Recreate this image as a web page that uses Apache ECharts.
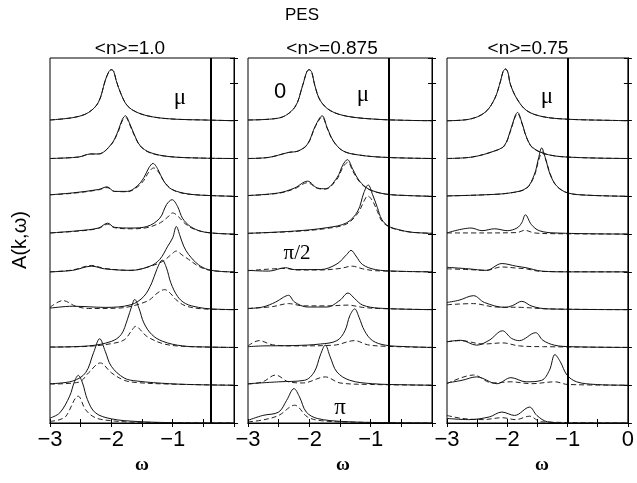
<!DOCTYPE html>
<html lang="en">
<head>
<meta charset="UTF-8">
<title>PES A(k,w)</title>
<script src="https://cdn.jsdelivr.net/npm/echarts@6/dist/echarts.min.js"></script>
<style>
  html, body { margin: 0; padding: 0; background: #fff; }
  #chart { width: 637px; height: 483px; }
</style>
</head>
<body>
<div id="chart"></div>
<script>
// panel captions and chemical potential per panel
const panelTitles = ["<n>=1.0", "<n>=0.875", "<n>=0.75"];
const muValues = [-0.38, -0.7, -1.0];
const xTicks = [-3, -2, -1, 0];

// curves listed top (k=0) to bottom (k=pi), each as [omega, A]
const n100Solid = [
  [[-3,0.02],[-2.6,0.09],[-2.37,0.22],[-2.21,0.49],[-2.1,1.06],[-2.04,1.3],[-2.0,1.35],[-1.96,1.3],[-1.92,1.06],[-1.84,0.7],[-1.74,0.4],[-1.58,0.22],[-1.32,0.1],[-0.95,0.04],[-0.5,0.02],[0,0]],
  [[-3,0],[-2.53,0.04],[-2.34,0.12],[-2.21,0.12],[-2.0,0.38],[-1.89,0.73],[-1.82,1.04],[-1.77,1.13],[-1.71,0.96],[-1.63,0.65],[-1.53,0.34],[-1.37,0.16],[-1.05,0.05],[-0.5,0.01],[0,0]],
  [[-3,0.04],[-2.63,0.09],[-2.21,0.18],[-2.07,0.25],[-1.95,0.13],[-1.74,0.13],[-1.58,0.27],[-1.47,0.49],[-1.39,0.75],[-1.32,0.87],[-1.24,0.71],[-1.16,0.44],[-1.05,0.22],[-0.89,0.11],[-0.63,0.04],[0,0]],
  [[-3,0.03],[-2.53,0.09],[-2.21,0.16],[-2.06,0.29],[-1.95,0.18],[-1.68,0.16],[-1.42,0.2],[-1.21,0.42],[-1.1,0.78],[-1.01,0.91],[-0.92,0.73],[-0.84,0.42],[-0.71,0.2],[-0.53,0.07],[-0.3,0.02],[0,0]],
  [[-3,0],[-2.63,0.04],[-2.32,0.15],[-2.11,0.08],[-1.68,0.04],[-1.37,0.15],[-1.21,0.33],[-1.08,0.68],[-1.0,0.9],[-0.94,1.2],[-0.88,0.95],[-0.82,0.68],[-0.74,0.46],[-0.58,0.19],[-0.42,0.06],[-0.2,0.01],[0,0]],
  [[-3,0.04],[-2.63,0.09],[-2.1,0.06],[-1.68,0.13],[-1.47,0.35],[-1.34,0.71],[-1.26,1.06],[-1.17,1.31],[-1.1,1.1],[-1.03,0.71],[-0.92,0.35],[-0.79,0.16],[-0.58,0.06],[-0.38,0.02],[0,0]],
  [[-3,0.01],[-2.37,0.04],[-2.0,0.16],[-1.84,0.34],[-1.74,0.73],[-1.66,1.13],[-1.62,1.27],[-1.55,1.04],[-1.47,0.65],[-1.34,0.34],[-1.16,0.16],[-0.84,0.04],[-0.4,0.01],[0,0]],
  [[-3,0.04],[-2.63,0.11],[-2.42,0.33],[-2.29,0.86],[-2.19,1.23],[-2.1,0.9],[-2.0,0.5],[-1.79,0.19],[-1.58,0.11],[-1.05,0.04],[-0.5,0.01],[0,0]],
  [[-3,0.13],[-2.84,0.27],[-2.68,0.71],[-2.6,1.1],[-2.54,1.26],[-2.47,1.06],[-2.39,0.62],[-2.26,0.27],[-2.0,0.11],[-1.58,0.04],[-1.0,0.01],[0,0]]
];
const n100Dashed = [
  [[-3,0.02],[-2.6,0.09],[-2.37,0.22],[-2.21,0.49],[-2.1,1.06],[-2.04,1.3],[-2.0,1.35],[-1.96,1.3],[-1.92,1.06],[-1.84,0.7],[-1.74,0.4],[-1.58,0.22],[-1.32,0.1],[-0.95,0.04],[-0.5,0.02],[0,0]],
  [[-3,0],[-2.53,0.04],[-2.34,0.12],[-2.21,0.12],[-2.0,0.37],[-1.89,0.7],[-1.82,1.0],[-1.76,1.08],[-1.71,0.93],[-1.63,0.63],[-1.53,0.33],[-1.37,0.15],[-1.05,0.05],[-0.5,0.01],[0,0]],
  [[-3,0.04],[-2.63,0.08],[-2.21,0.17],[-2.07,0.23],[-1.95,0.13],[-1.74,0.12],[-1.58,0.24],[-1.47,0.42],[-1.39,0.64],[-1.31,0.75],[-1.23,0.64],[-1.15,0.42],[-1.04,0.22],[-0.89,0.1],[-0.63,0.04],[0,0]],
  [[-3,0.03],[-2.53,0.08],[-2.21,0.15],[-2.06,0.26],[-1.95,0.17],[-1.68,0.14],[-1.42,0.17],[-1.2,0.3],[-1.08,0.45],[-1.0,0.56],[-0.9,0.45],[-0.8,0.28],[-0.69,0.16],[-0.53,0.07],[-0.3,0.02],[0,0]],
  [[-3,0],[-2.63,0.05],[-2.32,0.17],[-2.11,0.09],[-1.68,0.04],[-1.42,0.12],[-1.16,0.28],[-1.03,0.45],[-0.94,0.55],[-0.85,0.45],[-0.74,0.33],[-0.58,0.15],[-0.42,0.05],[-0.2,0.01],[0,0]],
  [[-3,0.06],[-2.79,0.24],[-2.58,0.09],[-2.37,0.03],[-1.89,0.04],[-1.42,0.22],[-1.24,0.45],[-1.13,0.53],[-1.03,0.42],[-0.95,0.27],[-0.79,0.1],[-0.5,0.02],[0,0]],
  [[-3,0.01],[-2.37,0.03],[-2.0,0.1],[-1.79,0.2],[-1.68,0.42],[-1.6,0.56],[-1.5,0.42],[-1.42,0.29],[-1.16,0.1],[-0.84,0.03],[0,0]],
  [[-3,0.03],[-2.53,0.08],[-2.37,0.33],[-2.18,0.59],[-2.0,0.33],[-1.79,0.13],[-1.58,0.07],[-1.05,0.03],[0,0]],
  [[-3,0.04],[-2.84,0.09],[-2.74,0.18],[-2.54,0.71],[-2.42,0.35],[-2.26,0.14],[-2.0,0.06],[-1.58,0.02],[0,0]]
];

const n0875Solid = [
  [[-3,0.02],[-2.5,0.07],[-2.24,0.35],[-2.11,0.93],[-2.04,1.3],[-2.0,1.35],[-1.96,1.28],[-1.91,0.93],[-1.82,0.53],[-1.66,0.27],[-1.39,0.12],[-0.92,0.04],[-0.4,0.01],[0,0]],
  [[-3,0],[-2.66,0.03],[-2.34,0.16],[-2.18,0.2],[-2.03,0.38],[-1.9,0.87],[-1.79,1.13],[-1.71,0.82],[-1.61,0.47],[-1.45,0.2],[-1.18,0.09],[-0.76,0.03],[0,0]],
  [[-3,0.02],[-2.5,0.09],[-2.24,0.22],[-2.03,0.4],[-1.87,0.22],[-1.74,0.2],[-1.55,0.49],[-1.45,0.84],[-1.38,0.97],[-1.29,0.71],[-1.18,0.4],[-1.03,0.19],[-0.76,0.06],[-0.4,0.02],[0,0]],
  [[-3,0.02],[-2.24,0.08],[-1.71,0.17],[-1.39,0.3],[-1.21,0.61],[-1.11,1.1],[-1.04,1.3],[-0.97,1.05],[-0.89,0.7],[-0.82,0.39],[-0.71,0.21],[-0.55,0.12],[-0.34,0.05],[0,0.02]],
  [[-3,0.04],[-2.66,0.02],[-2.39,0.11],[-2.24,0.06],[-1.82,0.06],[-1.55,0.21],[-1.39,0.46],[-1.32,0.57],[-1.24,0.42],[-1.13,0.19],[-0.92,0.06],[-0.6,0.02],[0,0]],
  [[-3,0.03],[-2.76,0.07],[-2.55,0.2],[-2.42,0.33],[-2.34,0.38],[-2.24,0.2],[-2.03,0.07],[-1.71,0.07],[-1.5,0.25],[-1.37,0.44],[-1.26,0.29],[-1.13,0.12],[-0.87,0.04],[0,0]],
  [[-3,0.02],[-2.76,0.04],[-2.24,0.05],[-1.82,0.09],[-1.55,0.18],[-1.42,0.44],[-1.34,0.84],[-1.26,1.02],[-1.19,0.8],[-1.1,0.44],[-0.97,0.18],[-0.76,0.06],[-0.4,0.02],[0,0]],
  [[-3,0.04],[-2.5,0.09],[-2.08,0.13],[-1.92,0.35],[-1.82,0.8],[-1.74,1.06],[-1.66,0.75],[-1.55,0.35],[-1.34,0.13],[-0.97,0.04],[-0.4,0.01],[0,0]],
  [[-3,0.07],[-2.76,0.2],[-2.5,0.29],[-2.37,0.6],[-2.25,0.91],[-2.16,0.69],[-2.05,0.29],[-1.87,0.12],[-1.45,0.04],[-0.8,0.01],[0,0]]
];
const n0875Dashed = [
  [[-3,0.02],[-2.5,0.07],[-2.24,0.35],[-2.11,0.93],[-2.04,1.3],[-2.0,1.35],[-1.96,1.28],[-1.91,0.93],[-1.82,0.53],[-1.66,0.27],[-1.39,0.12],[-0.92,0.04],[-0.4,0.01],[0,0]],
  [[-3,0],[-2.66,0.03],[-2.34,0.16],[-2.18,0.2],[-2.03,0.37],[-1.9,0.85],[-1.79,1.1],[-1.71,0.8],[-1.61,0.46],[-1.45,0.2],[-1.18,0.09],[-0.76,0.03],[0,0]],
  [[-3,0.02],[-2.5,0.08],[-2.24,0.2],[-2.03,0.36],[-1.87,0.21],[-1.74,0.19],[-1.55,0.45],[-1.45,0.78],[-1.37,0.9],[-1.29,0.66],[-1.18,0.38],[-1.03,0.18],[-0.76,0.06],[-0.4,0.02],[0,0]],
  [[-3,0.02],[-2.24,0.07],[-1.71,0.15],[-1.39,0.27],[-1.21,0.55],[-1.1,0.9],[-1.05,1.01],[-0.97,0.88],[-0.89,0.6],[-0.82,0.35],[-0.71,0.2],[-0.55,0.11],[-0.34,0.05],[0,0.02]],
  [[-3,0.03],[-2.39,0.09],[-2.2,0.05],[-1.82,0.05],[-1.5,0.09],[-1.3,0.15],[-1.13,0.08],[-0.92,0.03],[0,0]],
  [[-3,0.03],[-2.6,0.08],[-2.34,0.16],[-2.1,0.1],[-1.71,0.1],[-1.37,0.12],[-1.13,0.06],[-0.87,0.03],[0,0]],
  [[-3,0.04],[-2.82,0.18],[-2.6,0.07],[-2.24,0.04],[-1.6,0.06],[-1.26,0.18],[-1.05,0.07],[-0.76,0.03],[0,0]],
  [[-3,0.03],[-2.76,0.09],[-2.55,0.27],[-2.34,0.09],[-2.1,0.06],[-1.74,0.22],[-1.5,0.06],[-1.0,0.02],[0,0]],
  [[-3,0.03],[-2.76,0.08],[-2.5,0.2],[-2.24,0.47],[-2.03,0.16],[-1.8,0.06],[-1.2,0.02],[0,0]]
];

const n075Solid = [
  [[-3,0],[-2.63,0.04],[-2.37,0.22],[-2.21,0.58],[-2.11,1.06],[-2.07,1.3],[-2.03,1.37],[-1.99,1.28],[-1.95,0.97],[-1.84,0.58],[-1.68,0.27],[-1.42,0.11],[-1.0,0.04],[-0.3,0.01],[0,0]],
  [[-3,0],[-2.58,0.04],[-2.21,0.2],[-2.05,0.34],[-1.95,0.73],[-1.87,1.13],[-1.83,1.22],[-1.76,0.96],[-1.68,0.56],[-1.58,0.29],[-1.32,0.1],[-0.89,0.03],[0,0]],
  [[-3,0.01],[-2.37,0.04],[-1.95,0.09],[-1.68,0.22],[-1.55,0.58],[-1.48,1.02],[-1.43,1.28],[-1.37,1.02],[-1.29,0.58],[-1.18,0.27],[-1.0,0.09],[-0.68,0.03],[0,0]],
  [[-3,0.03],[-2.6,0.16],[-2.42,0.09],[-2.21,0.14],[-2.0,0.09],[-1.84,0.16],[-1.76,0.3],[-1.7,0.51],[-1.6,0.25],[-1.47,0.09],[-1.21,0.03],[0,0]],
  [[-3,0.12],[-2.64,0.08],[-2.35,0.04],[-2.09,0.22],[-1.85,0.15],[-1.69,0.11],[-1.43,0.02],[-1.0,0],[0,0]],
  [[-3,0.19],[-2.8,0.25],[-2.56,0.37],[-2.38,0.19],[-2.04,0.06],[-1.91,0.11],[-1.76,0.22],[-1.59,0.09],[-1.33,0.02],[0,0]],
  [[-3,0.15],[-2.77,0.19],[-2.51,0.06],[-2.3,0.19],[-2.08,0.44],[-1.93,0.24],[-1.8,0.18],[-1.53,0.39],[-1.41,0.19],[-1.22,0.06],[-0.96,0.02],[0,0]],
  [[-3,0.06],[-2.75,0.13],[-2.51,0.22],[-2.17,0.04],[-1.94,0.2],[-1.69,0.09],[-1.43,0.13],[-1.3,0.4],[-1.21,0.81],[-1.12,0.62],[-1.01,0.27],[-0.85,0.09],[-0.54,0.02],[0,0]],
  [[-3,0.12],[-2.64,0.09],[-2.3,0.16],[-2.09,0.29],[-1.88,0.2],[-1.63,0.42],[-1.51,0.2],[-1.33,0.03],[-1.0,0],[0,0]]
];
const n075Dashed = [
  [[-3,0],[-2.63,0.04],[-2.37,0.22],[-2.21,0.58],[-2.11,1.06],[-2.07,1.3],[-2.03,1.37],[-1.99,1.28],[-1.95,0.97],[-1.84,0.58],[-1.68,0.27],[-1.42,0.11],[-1.0,0.04],[-0.3,0.01],[0,0]],
  [[-3,0],[-2.58,0.04],[-2.21,0.2],[-2.05,0.33],[-1.95,0.71],[-1.87,1.1],[-1.83,1.19],[-1.76,0.94],[-1.68,0.55],[-1.58,0.28],[-1.32,0.1],[-0.89,0.03],[0,0]],
  [[-3,0.01],[-2.37,0.04],[-1.95,0.09],[-1.68,0.21],[-1.55,0.55],[-1.48,0.95],[-1.42,1.18],[-1.36,0.96],[-1.28,0.56],[-1.18,0.27],[-1.0,0.09],[-0.68,0.03],[0,0]],
  [[-3,0.03],[-2.4,0.03],[-1.84,0.04],[-1.71,0.1],[-1.55,0.03],[-1.2,0.01],[0,0]],
  [[-3,0.08],[-2.64,0.06],[-2.35,0.04],[-2.09,0.13],[-1.85,0.1],[-1.69,0.08],[-1.43,0.01],[0,0]],
  [[-3,0.13],[-2.56,0.16],[-2.2,0.07],[-1.76,0.06],[-1.33,0.02],[0,0]],
  [[-3,0.15],[-2.77,0.18],[-2.4,0.09],[-2.08,0.12],[-1.8,0.04],[-1.4,0.02],[0,0]],
  [[-3,0.04],[-2.56,0.27],[-2.25,0.06],[-1.94,0.09],[-1.6,0.04],[-1.21,0.09],[-1.0,0.02],[0,0]],
  [[-3,0.2],[-2.75,0.12],[-2.4,0.09],[-2.09,0.14],[-1.86,0.09],[-1.63,0.18],[-1.44,0.03],[0,0]]
];

const solidSets = [n100Solid, n0875Solid, n075Solid];
const dashedSets = [n100Dashed, n0875Dashed, n075Dashed];

const chart = echarts.init(document.getElementById("chart"));

const panelLeft = [50, 248, 447];
const panelWidth = [184, 184, 185];
const yMax = 9.66;
const sans = "Liberation Sans, Arial, sans-serif";
const serif = "Liberation Serif, Times New Roman, serif";

function tickLabel(v, showZero) {
  if (!Number.isInteger(v)) return "";
  if (v === 0) return showZero ? "0" : "";
  return "\u2212" + Math.abs(v);
}

const grids = [], xAxes = [], yAxes = [], series = [];
for (let p = 0; p < 3; p++) {
  grids.push({ left: panelLeft[p], top: 58, width: panelWidth[p], height: 365,
    show: true, borderColor: "#000", borderWidth: 1, backgroundColor: "transparent" });
  const tickCommon = { inside: true, length: 4, lineStyle: { color: "#000" } };
  xAxes.push({
    gridIndex: p, type: "value", min: -3, max: 0, interval: 0.5, position: "bottom",
    axisLine: { lineStyle: { color: "#000" } }, axisTick: tickCommon, splitLine: { show: false },
    axisLabel: { fontSize: 22, color: "#000", fontFamily: sans, margin: 6,
      formatter: (v) => tickLabel(v, p === 2) }
  });
  xAxes.push({
    gridIndex: p, type: "value", min: -3, max: 0, interval: 0.5, position: "top",
    axisLine: { lineStyle: { color: "#000" } }, axisTick: tickCommon,
    splitLine: { show: false }, axisLabel: { show: false }
  });
  yAxes.push({
    gridIndex: p, type: "value", min: 0, max: yMax, interval: 1, position: "left",
    axisLine: { lineStyle: { color: "#000" } }, axisTick: tickCommon,
    splitLine: { show: false }, axisLabel: { show: false }
  });
  yAxes.push({
    gridIndex: p, type: "value", min: 0, max: yMax, interval: 1, position: "right",
    axisLine: { lineStyle: { color: "#000" } }, axisTick: tickCommon,
    splitLine: { show: false }, axisLabel: { show: false }
  });

  const solid = solidSets[p], dashed = dashedSets[p];
  for (let i = 0; i < solid.length; i++) {
    const offset = solid.length - 1 - i;
    series.push({
      type: "line", xAxisIndex: p * 2, yAxisIndex: p * 2, symbol: "none",
      smooth: 0.35, silent: true, z: 3,
      lineStyle: { color: "#222", width: 1, type: [5, 3] },
      data: dashed[i].map((d) => [d[0], d[1] + offset])
    });
    const s = {
      type: "line", xAxisIndex: p * 2, yAxisIndex: p * 2, symbol: "none",
      smooth: 0.35, silent: true, z: 4,
      lineStyle: { color: "#111", width: 1 },
      data: solid[i].map((d) => [d[0], d[1] + offset])
    };
    if (i === 0) {
      s.markLine = { silent: true, symbol: "none", label: { show: false },
        lineStyle: { color: "#000", width: 2, type: "solid" },
        data: [{ xAxis: muValues[p] }] };
    }
    series.push(s);
  }
}

function txt(x, y, text, size, family, extra, weight) {
  return Object.assign({ type: "text", x: x, y: y, z: 10,
    style: { text: text, fill: "#000", fontSize: size, fontFamily: family,
      fontWeight: weight || "normal",
      textAlign: "center", textVerticalAlign: "middle" } }, extra || {});
}

const graphics = [
  txt(302, 15, "PES", 17, sans),
  txt(130, 49, panelTitles[0], 19, sans),
  txt(332, 49, panelTitles[1], 19, sans),
  txt(528, 49, panelTitles[2], 19, sans),
  txt(142, 465, "\u03c9", 19, serif, null, "bold"),
  txt(343, 465, "\u03c9", 19, serif, null, "bold"),
  txt(542, 465, "\u03c9", 19, serif, null, "bold"),
  txt(20, 240, "A(k,\u03c9)", 20, sans, { rotation: Math.PI / 2 }),
  txt(180, 98, "\u03bc", 23, serif),
  txt(363, 95, "\u03bc", 23, serif),
  txt(547, 97, "\u03bc", 23, serif),
  txt(280, 92, "0", 22, sans),
  txt(297, 253, "\u03c0/2", 21, serif),
  txt(340, 408, "\u03c0", 23, serif)
];

chart.setOption({
  animation: false,
  backgroundColor: "#fff",
  grid: grids,
  xAxis: xAxes,
  yAxis: yAxes,
  series: series,
  graphic: graphics
});
</script>
</body>
</html>
